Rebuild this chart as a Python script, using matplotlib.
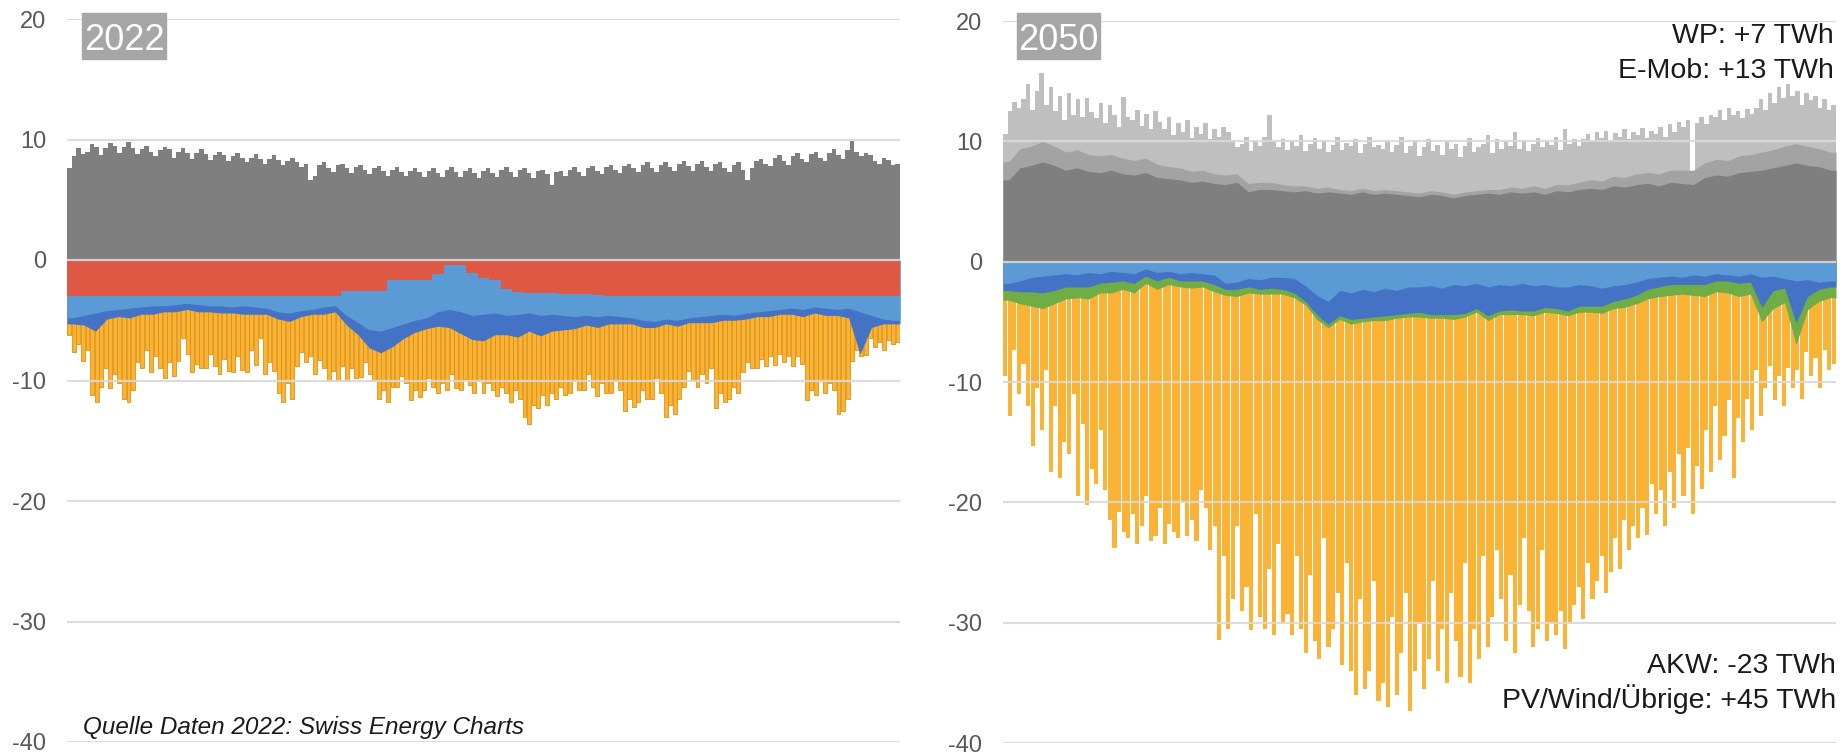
import numpy as np
import matplotlib.pyplot as plt
from matplotlib.patches import Rectangle

plt.rcParams['font.family'] = ['Liberation Sans', 'DejaVu Sans']
plt.rcParams['axes.unicode_minus'] = False

# ---- 2022 (GW) ----
# demand, 2-day bins
cons_2022 = [7.6, 8.6, 9.3, 8.8, 9.0, 9.6, 9.4, 8.7, 9.3, 9.7, 9.5, 8.9, 9.4, 9.8, 9.3, 8.8,
             9.2, 9.5, 9.0, 8.6, 9.1, 9.4, 9.2, 8.5, 9.0, 9.3, 8.9, 8.4, 8.9, 9.2,
             8.8, 8.3, 8.7, 9.0, 8.7, 8.2, 8.6, 8.9, 8.5, 8.1, 8.5, 8.8, 8.4, 8.0, 8.4, 8.7,
             8.3, 7.9, 8.2, 8.5, 8.1, 7.7, 8.0, 6.6, 7.0, 7.9, 8.1, 7.6, 7.3, 7.9, 8.0,
             7.6, 7.2, 7.7, 7.9, 7.5, 7.1, 7.6, 7.8, 7.4, 7.0, 7.5, 7.7, 7.3, 7.0, 7.4, 7.6,
             7.3, 6.9, 7.4, 7.6, 7.2, 6.9, 7.5, 7.7, 7.3, 6.9, 7.4, 7.6, 7.2, 6.8, 7.4,
             7.6, 7.2, 6.9, 7.5, 7.7, 7.3, 6.9, 7.5, 7.6, 7.2, 6.8, 7.4, 7.5, 7.1, 6.2, 7.3,
             7.4, 7.0, 7.5, 7.7, 7.3, 7.0, 7.6, 7.8, 7.4, 7.1, 7.7, 7.9, 7.5, 7.2, 7.8,
             8.0, 7.6, 7.3, 7.9, 8.1, 7.6, 7.3, 7.9, 8.1, 7.7, 7.4, 8.0, 8.2, 7.8, 7.4,
             8.0, 8.2, 7.7, 7.4, 8.0, 8.1, 7.6, 7.3, 7.9, 8.1, 7.5, 6.6, 7.6, 8.2, 8.4,
             8.0, 7.8, 8.5, 8.7, 8.2, 7.9, 8.6, 8.9, 8.4, 8.1, 8.8, 9.0, 8.5, 8.2, 8.9,
             9.2, 8.7, 8.4, 9.1, 9.9, 9.0, 8.6, 8.9, 8.7, 8.2, 8.0, 8.5, 8.3, 7.9, 8.0]
# supply layers, 5-day bins
nuclear_2022 = [3.0] * 24 + [2.6] * 4 + [1.7] * 4 + \
               [1.2, 0.4, 0.4, 1.1, 1.5, 1.7, 2.4, 2.65, 2.7, 2.7, 2.75, 2.8, 2.8, 2.85, 2.9] + [3.0] * 26
river_2022 = [1.8, 1.6, 1.4, 1.2, 1.1, 1.0,
              0.9, 0.8, 0.8, 0.7, 0.6, 0.7,
              0.8, 0.8, 0.9, 0.8, 0.9, 1.0,
              1.3, 1.4, 1.2,
              1.1, 0.9, 0.8,
              2.0, 2.6, 3.2, 3.3,
              3.9, 3.6, 3.3, 3.1,
              3.1, 3.7, 3.9, 3.5,
              3.0, 2.7, 2.2, 1.85, 1.7, 1.9,
              1.75, 1.8, 1.9, 1.75, 1.8, 1.6,
              1.7, 1.8, 2.0, 2.1, 1.9, 2.0, 1.8, 1.7,
              1.6, 1.5, 1.6, 1.4, 1.3, 1.2,
              1.1, 1.0, 1.1, 0.9, 1.0, 1.1, 1.0,
              1.3, 1.6, 1.9, 2.0]
storage_2022 = [0.5, 0.8, 1.5, 0.7, 0.6, 0.8,
                0.6, 0.7, 0.5, 0.6, 0.5, 0.6,
                0.5, 0.6, 0.5, 0.7, 0.6, 0.5,
                0.6, 0.7, 0.5, 0.4, 0.6, 0.5,
                0.8, 1.0, 1.5, 1.8, 1.6, 1.2, 1.0, 0.9,
                1.2, 1.5, 1.8, 2.0, 2.2, 1.8, 1.6, 1.9, 1.5, 1.7,
                1.4, 1.2, 1.0, 0.8, 0.9, 0.7, 0.6, 0.5, 0.6, 0.5,
                0.4, 0.5, 0.4, 0.5, 0.6, 0.5, 0.4, 0.5, 0.4, 0.5,
                0.4, 0.5, 0.6, 0.5, 0.6, 0.5, 0.8,
                3.5, 1.0, 0.4, 0.3]
# lower edge of the supply stack, 2-day bins
bottom_2022 = [-6.2, -7.6, -7.0, -8.4, -7.5,
               -11.2, -11.8, -10.5,
               -9.0, -10.6, -9.5, -10.2,
               -11.5, -11.8, -10.8,
               -8.5, -9.0, -7.5,
               -9.3, -8.0, -9.0,
               -9.8, -8.5, -9.6,
               -8.4, -6.5, -7.8,
               -9.3, -8.6, -9.0,
               -9.0, -7.8, -8.8,
               -9.5, -8.2, -9.2,
               -9.3, -8.0, -9.1,
               -9.3, -7.5, -8.7,
               -6.5, -9.5, -8.5, -9.2,
               -11.0, -11.8, -10.2, -11.5,
               -8.8, -7.6, -8.5, -8.0,
               -9.5, -8.3, -9.0,
               -10.0, -9.2, -10.0, -8.8,
               -10.0, -9.0, -9.8,
               -9.7, -8.5, -9.5, -10.0,
               -11.5, -10.8, -11.8, -10.5,
               -10.5, -9.6, -10.2,
               -11.6, -10.8, -11.4,
               -10.8, -9.8, -10.5,
               -11.0, -10.2, -10.8, -9.5, -10.6,
               -10.8, -9.9, -10.4, -11.0, -10.0,
               -11.0, -10.2, -10.8,
               -11.3, -10.5, -11.0,
               -11.8, -10.8, -11.5,
               -13.0, -13.6, -12.0,
               -12.3, -11.2, -12.0, -11.0,
               -11.5, -10.5, -11.2,
               -11.0, -10.0, -10.8,
               -10.8, -9.5, -10.5,
               -11.3, -10.2, -11.0,
               -11.0, -10.0, -10.8,
               -12.5, -11.5, -12.2,
               -11.8, -10.8, -11.5,
               -11.5, -9.8, -11.0,
               -13.0, -12.0, -12.8, -11.5,
               -10.5, -9.2, -10.0,
               -10.5, -9.5, -10.2, -9.0,
               -12.3, -11.0, -11.8,
               -11.5, -10.5, -11.0,
               -9.3, -8.5, -9.0,
               -9.0, -8.2, -8.8, -8.0,
               -8.7, -7.8, -8.5, -8.0,
               -8.8, -8.0, -8.6,
               -11.6, -10.8, -11.2, -10.0,
               -11.0, -10.2, -10.8,
               -12.8, -12.5, -11.5,
               -8.4, -7.5, -8.0,
               -7.9, -6.5, -7.2, -6.8, -7.5, -6.6, -7.0, -6.8]

# ---- 2050 (GW) ----
cons_2050 = [6.8, 7.8,
             8.0, 8.3, 8.0,
             7.6, 7.8, 7.5, 7.4, 7.6, 7.3, 7.2, 7.4, 7.0,
             6.9, 6.8, 6.6, 6.7, 6.5, 6.4, 6.6,
             5.8, 6.0, 6.0, 5.9, 5.8, 5.9, 5.7, 5.8, 5.7, 5.6, 5.8, 5.6, 5.7,
             5.6, 5.5, 5.4, 5.6, 5.5, 5.3, 5.5, 5.6,
             5.7, 5.6, 5.8, 5.7, 5.8, 5.6, 5.9, 5.8, 6.0,
             6.1, 6.0, 6.3, 6.2, 6.4, 6.5, 6.3, 6.6, 6.5, 6.4,
             7.0, 7.2, 7.1, 7.4, 7.5, 7.6, 7.8, 8.0, 8.2, 8.0, 7.9, 7.6]
wp_2050 = [1.5, 1.6, 1.6, 1.7, 1.6, 1.5, 1.5, 1.4, 1.4, 1.3, 1.3, 1.2,
           1.2, 1.1, 1.0, 1.0, 0.9, 0.9, 0.8, 0.8, 0.7, 0.7, 0.6, 0.6,
           0.5, 0.5, 0.4, 0.4, 0.4, 0.3, 0.3, 0.3, 0.3, 0.3, 0.3, 0.3,
           0.3, 0.3, 0.3, 0.3, 0.3, 0.3, 0.3, 0.4, 0.4, 0.4, 0.5, 0.5,
           0.5, 0.6, 0.6, 0.7, 0.7, 0.8, 0.8, 0.9, 0.9, 1.0, 1.0, 1.1,
           1.2, 1.2, 1.3, 1.3, 1.4, 1.4, 1.5, 1.5, 1.6, 1.6, 1.6, 1.5, 1.5]
# upper edge of demand incl. E-Mob, 2-day bins
top_2050 = [10.6, 12.5, 13.3, 12.8,
            13.5, 14.8, 12.6, 14.2, 15.7, 13.0, 14.5,
            12.5, 13.8, 11.8, 14.0, 12.2, 13.5, 12.0, 13.6, 12.4, 11.9, 13.2,
            11.5, 13.0, 12.2, 11.2, 13.7, 12.0, 11.8, 12.6, 11.3, 12.3, 11.0, 12.5, 11.6,
            11.0, 12.0, 10.5, 11.5, 10.8, 11.8, 10.3, 11.2, 10.6, 11.5, 10.2, 11.0, 10.4, 11.2, 10.8, 10.1, 9.5,
            9.8, 10.4, 9.2, 10.0, 9.6, 10.4, 12.2, 10.0, 9.5, 10.2, 9.3, 10.0, 9.6, 10.5, 9.2, 9.8,
            10.3, 9.4, 10.0, 9.1, 9.7, 10.4, 9.3, 9.9, 9.6, 10.2, 9.0, 9.8, 10.4, 9.5, 9.7,
            9.4, 10.0, 9.1, 9.7, 10.4, 9.0, 9.6, 10.1, 8.8, 9.5, 10.2, 9.2, 9.7, 8.9, 10.0, 9.4,
            9.8, 8.7, 9.6, 10.3, 9.1, 9.5,
            9.8, 10.5, 9.0, 10.2, 9.4, 10.0, 9.6, 10.8, 9.4, 10.1, 9.2, 9.8, 10.3, 9.5, 10.0, 9.7,
            10.4, 9.3, 11.0, 9.8, 10.2, 9.6,
            10.2, 10.6, 10.0, 10.8, 10.3, 10.9, 10.1, 10.7, 10.4, 11.0, 10.2, 10.8, 10.5, 11.1,
            10.3, 10.9, 10.6, 11.2, 10.4, 11.4, 10.8, 11.6,
            11.2, 11.8, 6.5, 11.5, 12.0, 11.4, 12.2,
            12.0, 12.6, 11.8, 12.8, 12.2, 12.5, 11.9, 12.7, 12.3,
            12.8, 13.5, 12.6, 14.0, 13.2, 14.5, 13.6, 14.8, 13.8, 14.2, 13.0, 14.0, 13.4, 13.8,
            12.8, 13.5, 12.6, 13.0]
river_2050 = [1.8, 1.6, 1.3,
              1.2, 1.1, 1.0, 1.1, 0.9, 1.0, 0.8, 0.9, 1.0,
              0.6, 0.9, 0.8, 1.0, 0.9, 1.0, 1.1,
              1.8, 1.7,
              1.4, 1.5, 1.3, 1.3, 1.4,
              2.0, 2.8, 3.3,
              2.4, 2.6, 2.3, 2.5, 2.2, 2.4, 2.1,
              2.1, 2.0, 2.2, 1.9, 2.0, 1.8, 2.1, 1.9, 2.0, 1.8, 2.0, 1.9, 2.1,
              2.1, 1.9, 2.0, 2.2, 2.0, 1.9, 1.7,
              1.4, 1.3, 1.2, 1.3, 1.1, 1.2, 1.0, 1.1, 1.2, 1.0, 1.3, 1.2, 1.4,
              1.6, 1.5, 1.7, 1.6]
storage_2050 = [0.6, 0.9, 1.2, 1.4, 1.3, 1.1,
                1.0, 1.2, 0.8, 0.9, 0.7, 0.8,
                0.6, 0.7, 0.5, 0.6, 0.7, 0.6, 0.8,
                0.5, 0.6, 0.7, 0.8, 0.9, 1.0, 1.2,
                1.3, 1.6, 1.9, 2.1, 2.2, 2.4, 2.1, 2.3, 2.0, 2.2,
                2.1, 2.4, 2.2, 2.5, 2.3, 2.1, 2.4, 2.2, 2.0, 2.3, 2.1, 1.9, 1.8,
                2.0, 1.8, 1.7, 1.5, 1.3, 1.2, 1.1,
                0.9, 0.8, 0.7, 0.6, 0.8, 0.7, 0.6, 0.5, 0.6, 0.7, 2.5, 1.2, 0.8, 3.5, 1.4, 0.6, 0.5]
other_2050 = [0.8, 1.0, 1.2, 1.3, 1.1, 1.0, 0.9, 1.0, 0.8, 0.9, 0.7, 0.8,
              0.6, 0.7, 0.6, 0.5, 0.6, 0.5, 0.6, 0.5, 0.6, 0.5, 0.4, 0.5, 0.4, 0.4,
              0.3, 0.4, 0.3, 0.3, 0.4, 0.3, 0.3, 0.4, 0.3, 0.3, 0.4, 0.3, 0.3, 0.4,
              0.3, 0.3, 0.4, 0.3, 0.4, 0.3, 0.4, 0.4, 0.4,
              0.4, 0.5, 0.5, 0.6, 0.6, 0.7, 0.7, 0.8, 0.8, 0.9, 0.8, 0.9,
              1.0, 0.9, 1.0, 1.1, 1.0, 1.2, 1.5, 1.2, 1.8, 1.1, 1.0, 0.9]
# lower edge of the supply stack incl. PV, 2-day bins
bottom_2050 = [-9.5, -12.8, -7.3, -11.0, -8.5, -12.0,
               -15.3, -10.5, -14.0, -9.0,
               -17.5, -12.0, -18.0, -15.0,
               -16.0, -11.0, -19.5, -13.5,
               -20.2, -17.2, -18.5, -14.0,
               -19.0, -21.5, -23.8, -20.8, -22.5,
               -23.0, -21.0, -23.5, -22.0, -19.5, -23.2, -22.8, -20.5, -23.5, -21.8,
               -22.5, -23.0, -20.0, -22.8, -21.5, -23.2, -19.0,
               -20.5, -24.0, -22.0,
               -31.4, -24.5, -30.5, -28.0, -22.0, -29.0, -27.0, -30.6, -21.0, -29.5, -30.5, -25.5,
               -31.0, -23.5, -30.0,
               -29.3, -31.0, -24.5, -30.5, -32.5,
               -26.0, -31.5, -33.0, -23.0, -32.0, -30.5, -27.5, -33.5, -25.0, -34.0,
               -36.0, -28.0, -35.5, -34.0, -26.5, -36.5, -35.0, -37.0, -29.5, -36.0, -32.5, -27.5,
               -37.3, -34.0, -30.0,
               -35.5, -33.0, -26.5, -34.0, -30.5, -35.0, -27.5, -31.5, -34.5, -25.0, -35.0, -30.5,
               -33.0, -24.5,
               -32.0, -29.5, -24.0, -28.0, -31.5, -26.0, -32.5, -28.5, -23.0, -29.0, -32.0, -30.5,
               -24.0, -31.5, -30.0,
               -31.0, -29.0, -32.2, -30.0, -28.5,
               -27.0, -29.7, -25.0, -28.0, -26.5, -24.5, -27.5, -25.8,
               -23.0, -25.5, -21.5, -24.0, -22.0, -23.0, -20.5,
               -22.7, -18.5, -21.0, -19.0, -22.0, -17.5,
               -20.5, -16.0, -19.5, -15.5, -21.0, -17.0, -18.9, -14.0, -17.5,
               -12.0, -16.5, -14.5, -11.5, -18.0, -13.0, -15.0, -11.4, -14.0,
               -9.0, -12.8, -10.5, -8.7, -11.5, -9.5, -12.0, -8.8, -10.5, -9.0,
               -11.4, -7.5, -9.5, -8.0, -10.5, -7.3, -9.0, -8.5]

yticks = [20, 10, 0, -10, -20, -30, -40]

GRAY_D, GRAY_M, GRAY_L = '#7f7f7f', '#a3a3a3', '#bfbfbf'
RED, LBLUE, DBLUE, GREEN = '#de5843', '#5b9bd5', '#4472c4', '#70ad47'
ORANGE, ORANGE_D = '#fab334', '#dc9213'
W, H = 1844, 755


def bins(vals):
    n = len(vals)
    w = 365 / n
    return np.arange(n) * w + w / 2, w


def area(ax, vals, color, z):
    # 5-day values drawn as a line polygon from 0, edges held at the first/last value
    n = len(vals)
    x = np.concatenate([[0], (np.arange(n) + 0.5) * 365 / n, [365]])
    y = np.concatenate([[vals[0]], vals, [vals[-1]]])
    ax.fill_between(x, 0, y, color=color, lw=0, zorder=z)


def style(ax):
    ax.set_xlim(0, 365)
    ax.set_ylim(-40, 20)
    for s in ax.spines.values():
        s.set_visible(False)
    ax.set_xticks([])
    ax.set_yticks(yticks)
    ax.set_yticklabels([str(t) for t in yticks])
    ax.tick_params(axis='y', length=0, pad=15, labelsize=17, labelcolor='#595959')
    for t in yticks:
        ax.axhline(t, color='#d9d9d9', lw=1.6, zorder=8, alpha=0.9)


fig = plt.figure(figsize=(W / 100, H / 100), dpi=100)
ax1 = fig.add_axes([67 / W, 13 / H, 833 / W, 723 / H])
ax2 = fig.add_axes([1003 / W, 12 / H, 833 / W, 722 / H])

# ---- 2022 panel ----
c, w = bins(cons_2022)
ax1.bar(c, cons_2022, width=w, color=GRAY_D, lw=0, zorder=3)
nuc = np.array(nuclear_2022)
ror = nuc + np.array(river_2022)
sto = ror + np.array(storage_2022)
c, w = bins(bottom_2022)
ax1.bar(c, bottom_2022, width=w * 0.85, color=ORANGE, edgecolor=ORANGE_D, linewidth=0.6, zorder=1)
area(ax1, -sto, DBLUE, 2)
area(ax1, -ror, LBLUE, 3)
e5 = np.linspace(0, 365, len(nuc) + 1)
ax1.stairs(-nuc, e5, baseline=0, fill=True, color=RED, lw=0, zorder=4)
style(ax1)

# ---- 2050 panel ----
c, w = bins(top_2050)
ax2.bar(c, top_2050, width=w, color=GRAY_L, lw=0, zorder=1)
area(ax2, np.array(cons_2050) + np.array(wp_2050), GRAY_M, 2)
area(ax2, np.array(cons_2050), GRAY_D, 3)
lb = np.array(river_2050)
db = lb + np.array(storage_2050)
gr = db + np.array(other_2050)
c, w = bins(bottom_2050)
ax2.bar(c, bottom_2050, width=w * 0.9, color=ORANGE, lw=0, zorder=1)
area(ax2, -gr, GREEN, 2)
area(ax2, -db, DBLUE, 3)
area(ax2, -lb, LBLUE, 4)
style(ax2)

# year boxes
for x0, x1, label in [(82, 166, '2022'), (1017, 1100, '2050')]:
    fig.patches.append(Rectangle((x0 / W, 1 - 59 / H), (x1 - x0) / W, 46 / H,
                                 transform=fig.transFigure, color='#a6a6a6', zorder=10))
    fig.text((x0 + x1) / 2 / W, 1 - 50 / H, label, ha='center', va='baseline',
             fontsize=26, color='white', zorder=11)

txt = dict(ha='right', va='baseline', fontsize=20.5, color='#1a1a1a')
fig.text(1834 / W, 1 - 43 / H, 'WP: +7 TWh', **txt)
fig.text(1834 / W, 1 - 78 / H, 'E-Mob: +13 TWh', **txt)
fig.text(1836 / W, 1 - 673 / H, 'AKW: -23 TWh', **txt)
fig.text(1836 / W, 1 - 708 / H, 'PV/Wind/Übrige: +45 TWh', **txt)
fig.text(83 / W, 1 - 734 / H, 'Quelle Daten 2022: Swiss Energy Charts',
         ha='left', va='baseline', fontsize=17.5, style='italic', color='#1a1a1a')

fig.savefig('out.png', dpi=100)
